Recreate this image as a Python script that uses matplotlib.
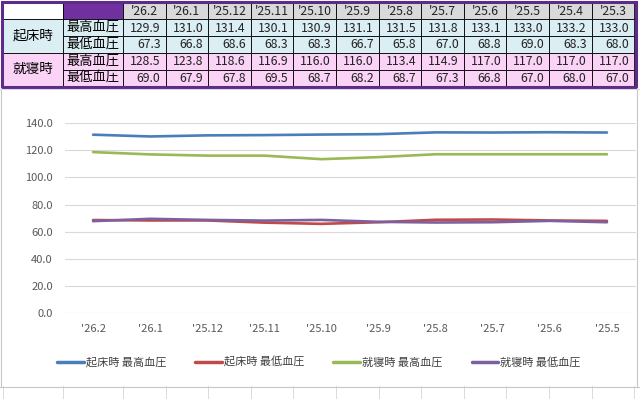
import matplotlib
matplotlib.use("Agg")
import matplotlib.pyplot as plt
from matplotlib.patches import Rectangle

plt.rcParams['font.family'] = ['Noto Sans CJK JP', 'DejaVu Sans']

# table data (newest month first)
months = ["'26.2", "'26.1", "'25.12", "'25.11", "'25.10", "'25.9",
          "'25.8", "'25.7", "'25.6", "'25.5", "'25.4", "'25.3"]
wake_sys = [129.9, 131.0, 131.4, 130.1, 130.9, 131.1, 131.5, 131.8, 133.1, 133.0, 133.2, 133.0]
wake_dia = [67.3, 66.8, 68.6, 68.3, 68.3, 66.7, 65.8, 67.0, 68.8, 69.0, 68.3, 68.0]
bed_sys = [128.5, 123.8, 118.6, 116.9, 116.0, 116.0, 113.4, 114.9, 117.0, 117.0, 117.0, 117.0]
bed_dia = [69.0, 67.9, 67.8, 69.5, 68.7, 68.2, 68.7, 67.3, 66.8, 67.0, 68.0, 67.0]

groups = ["起床時", "就寝時"]
row_labels = ["最高血圧", "最低血圧"]

# the chart shows 10 labels but its series still start at the '25.12 column
chart_months = months[:10]
chart_series = [
    ("起床時 最高血圧", wake_sys[2:], "#4A7EBB"),
    ("起床時 最低血圧", wake_dia[2:], "#BE4B48"),
    ("就寝時 最高血圧", bed_sys[2:], "#98B954"),
    ("就寝時 最低血圧", bed_dia[2:], "#7D60A0"),
]

W, H = 640, 399
fig = plt.figure(figsize=(W / 100, H / 100), dpi=100)
fig.patch.set_facecolor("white")

# background axes in pixel coordinates for the sheet / table
bg = fig.add_axes([0, 0, 1, 1])
bg.set_xlim(0, W)
bg.set_ylim(H, 0)
bg.axis("off")

# spreadsheet grid under the chart
col_x = [3, 63, 123] + [123 + 42.6 * (i + 1) for i in range(12)]
for x in col_x:
    bg.plot([x, x], [386, H], color="#d4d4d4", lw=0.6)
bg.plot([0, W], [386.5, 386.5], color="#c8c8c8", lw=0.8)
bg.plot([636.5, 636.5], [88, 386.5], color="#c8c8c8", lw=0.8)
bg.plot([0.5, 0.5], [88, 386.5], color="#c8c8c8", lw=0.8)
bg.plot([0, W], [89, 89], color="#dcdcdc", lw=0.8)

# table
row_y = [3, 19, 36, 53, 69.5, 85.5]
cyan = "#DAEEF3"
pink = "#FBD3F6"
data_rows = [wake_sys, wake_dia, bed_sys, bed_dia]
row_fill = [cyan, cyan, pink, pink]

def cell(x0, x1, y0, y1, fc):
    bg.add_patch(Rectangle((x0, y0), x1 - x0, y1 - y0, facecolor=fc,
                           edgecolor="black", lw=0.6))

cell(3, 63, row_y[0], row_y[1], "white")
cell(63, 123, row_y[0], row_y[1], "#7030A0")
for c, m in enumerate(months):
    x0, x1 = col_x[c + 2], col_x[c + 3]
    cell(x0, x1, row_y[0], row_y[1], "#D9D9D9")
    bg.text((x0 + x1) / 2, (row_y[0] + row_y[1]) / 2 + 0.5, m, ha="center", va="center",
            fontsize=8.8, color="#222222")

for g, name in enumerate(groups):
    fc = cyan if g == 0 else pink
    y0, y1 = row_y[1 + 2 * g], row_y[3 + 2 * g]
    cell(3, 63, y0, y1, fc)
    bg.text(33, (y0 + y1) / 2, name, ha="center", va="center", fontsize=9.8)

for r, vals in enumerate(data_rows):
    y0, y1 = row_y[r + 1], row_y[r + 2]
    cell(63, 123, y0, y1, row_fill[r])
    bg.text(66, (y0 + y1) / 2, row_labels[r % 2], ha="left", va="center", fontsize=9.5)
    for c, v in enumerate(vals):
        x0, x1 = col_x[c + 2], col_x[c + 3]
        cell(x0, x1, y0, y1, row_fill[r])
        bg.text(x1 - 5, (y0 + y1) / 2 + 0.5, f"{v:.1f}", ha="right", va="center",
                fontsize=8.8, color="#222222")

bg.add_patch(Rectangle((2, 2), 634, 84.5, facecolor="none", edgecolor="#5E2A8C", lw=2.2))

# chart
ax = fig.add_axes([64.5 / W, (H - 313.3) / H, 571 / W, 190.3 / H])
ax.set_facecolor("none")
x = range(len(chart_months))
for label, vals, color in chart_series:
    ax.plot(x, vals, color=color, lw=1.9, label=label, solid_capstyle="round")

ax.set_xlim(-0.5, len(chart_months) - 0.5)
ax.set_ylim(0, 140)
ax.set_yticks(range(0, 141, 20))
ax.set_yticklabels([f"{v:.1f}" for v in range(0, 141, 20)])
ax.set_xticks(list(x))
ax.set_xticklabels(chart_months)
ax.grid(axis="y", color="#D9D9D9", lw=0.8)
ax.set_axisbelow(True)
for s in ax.spines.values():
    s.set_visible(False)
ax.tick_params(length=0, labelsize=8, colors="#595959", pad=8)
ax.tick_params(axis="y", pad=8.5)

leg = ax.legend(loc="center", bbox_to_anchor=(319 / W, (H - 362) / H),
                bbox_transform=fig.transFigure, ncol=4, frameon=False,
                fontsize=8, handlelength=2.4, handletextpad=0.2, columnspacing=2.6)
for t in leg.get_texts():
    t.set_color("#404040")
for ln in leg.get_lines():
    ln.set_linewidth(2.5)

fig.savefig("out.png", dpi=100)
